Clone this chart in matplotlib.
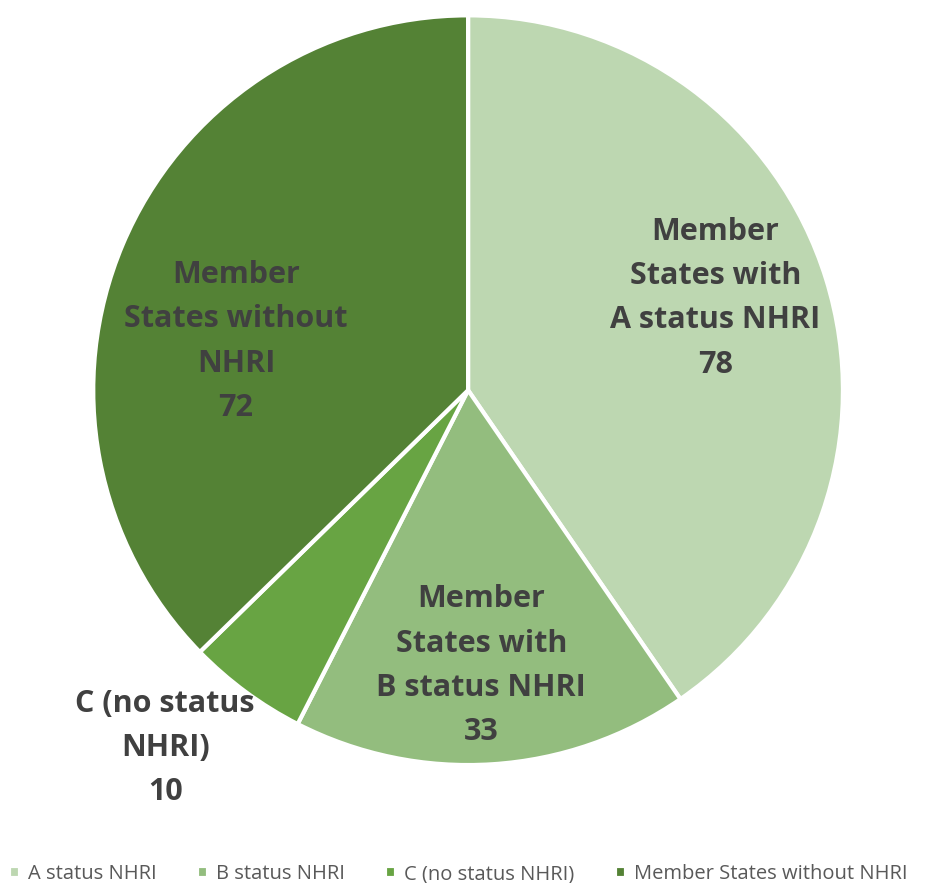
import matplotlib.pyplot as plt

plt.rcParams['font.family'] = ['Open Sans', 'DejaVu Sans']

categories = ['A status NHRI', 'B status NHRI', 'C (no status NHRI)', 'Member States without NHRI']
values = [78, 33, 10, 72]
slice_labels = ['Member\nStates with\nA status NHRI', 'Member\nStates with\nB status NHRI',
                'C (no status\nNHRI)', 'Member\nStates without\nNHRI']
colors = ['#bdd7b1', '#93bd7e', '#68a443', '#548235']
label_pos = [(0.66, 0.245), (0.035, -0.735), (-0.808, -0.955), (-0.619, 0.13)]

fig = plt.figure(figsize=(9.39, 8.83), dpi=100)
ax = fig.add_axes([0.099, 0.1336, 0.799, 0.849])

wedges, _ = ax.pie(values, colors=colors, startangle=90, counterclock=False,
                   radius=1.0, wedgeprops={'edgecolor': 'white', 'linewidth': 3})

for (x, y), lab, v in zip(label_pos, slice_labels, values):
    ax.text(x, y, f'{lab}\n{v}', ha='center', va='center', fontsize=22,
            fontweight='bold', color='#404040', linespacing=1.62)

ax.set_xlim(-1, 1)
ax.set_ylim(-1, 1)
ax.set_aspect('equal')
ax.axis('off')

fig.legend(wedges, categories, loc='lower left', bbox_to_anchor=(-0.01, -0.022),
           ncol=4, frameon=False, fontsize=14.5, handlelength=0.55, handleheight=0.55,
           handletextpad=0.4, columnspacing=2.0, labelcolor='#595959')

fig.savefig('out.png', dpi=100)
